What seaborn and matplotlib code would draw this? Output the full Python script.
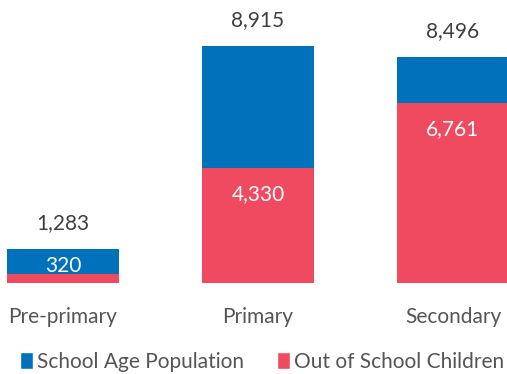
import matplotlib
matplotlib.use("Agg")
import matplotlib.pyplot as plt
import seaborn as sns
import pandas as pd
from matplotlib.patches import Patch

# Data
levels = ["Pre-primary", "Primary", "Secondary"]
school_age_population = [1283, 8915, 8496]
out_of_school = [320, 4330, 6761]

BLUE = "#0072BC"
RED = "#EF4A60"
TEXT_DARK = "#404040"
TEXT_GRAY = "#555555"
FS = 15

sns.set_theme(style="white")
plt.rcParams["font.family"] = ["Lato", "DejaVu Sans"]

df = pd.DataFrame({
    "level": levels,
    "population": school_age_population,
    "out": out_of_school,
})

fig = plt.figure(figsize=(5.07, 3.74), dpi=100)
ax = fig.add_axes([0, 91 / 374, 1, 283 / 374])

sns.barplot(data=df, x="level", y="population", color=BLUE, width=0.57,
            saturation=1, linewidth=0, ax=ax)
sns.barplot(data=df, x="level", y="out", color=RED, width=0.57,
            saturation=1, linewidth=0, ax=ax)

ax.set_xlim(-63 / 195, (507 - 63) / 195)
ymax = 8915 / 237 * 283
ax.set_ylim(0, ymax)
px = ymax / 283  # data units per pixel

# Totals above the blue bars
for i, v in enumerate(school_age_population):
    ax.text(i, v + 26 * px, f"{v:,}", ha="center", va="center",
            fontsize=FS, color=TEXT_DARK)

# Out-of-school values inside the red bars
for i, (v, tot) in enumerate(zip(out_of_school, school_age_population)):
    y = v - 26 * px
    if y < 12 * px:
        y = tot / 2
    ax.text(i, y, f"{v:,}", ha="center", va="center",
            fontsize=FS, color="white")

ax.set_xlabel("")
ax.set_ylabel("")
ax.set_yticks([])
ax.tick_params(axis="x", length=0, pad=17, labelsize=FS, labelcolor=TEXT_GRAY)
for s in ax.spines.values():
    s.set_visible(False)

handles = [Patch(facecolor=BLUE, label="School Age Population"),
           Patch(facecolor=RED, label="Out of School Children")]
fig.legend(handles=handles, loc="center", bbox_to_anchor=(262 / 507, 1 - 362 / 374),
           ncol=2, frameon=False, fontsize=FS, labelcolor=TEXT_GRAY,
           handlelength=0.62, handleheight=0.85, handletextpad=0.22,
           columnspacing=1.55, borderaxespad=0, borderpad=0)

fig.savefig("out.png", dpi=100)
